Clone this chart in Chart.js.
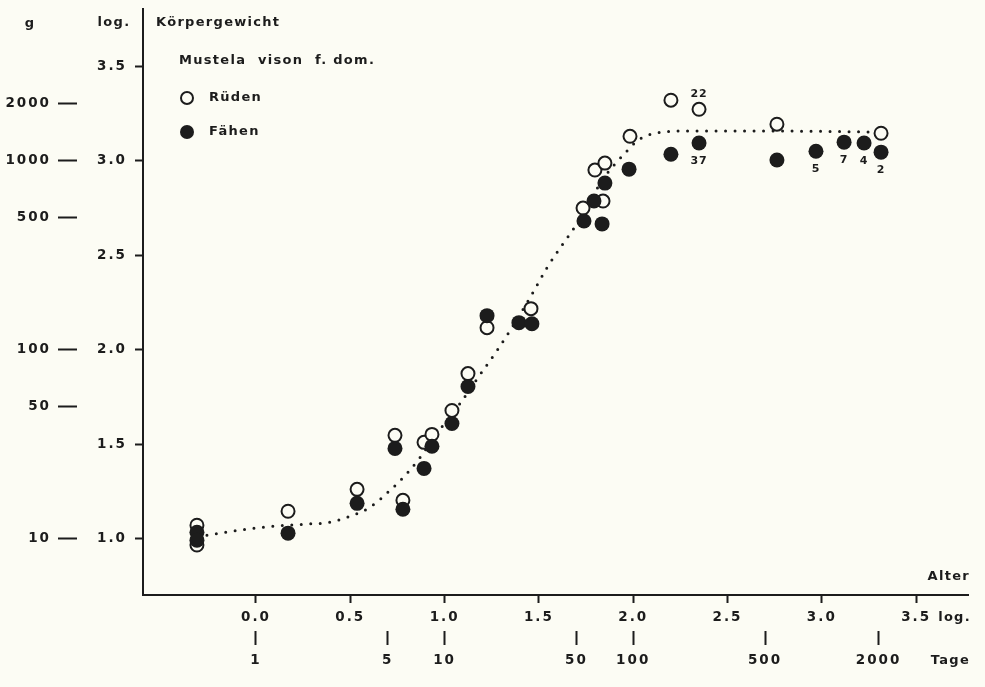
<!DOCTYPE html>
<html>
<head>
<meta charset="utf-8">
<script src="https://cdn.jsdelivr.net/npm/chart.js@4.4.1/dist/chart.umd.min.js"></script>
<style>
  html, body { margin: 0; padding: 0; background: #fcfcf4; }
  canvas { display: block; }
</style>
</head>
<body>
<canvas id="chart" width="985" height="687"></canvas>
<script>
// Körpergewicht (log g) over Alter (log Tage)
const maleX = [-0.313, -0.313, 0.170, 0.536, 0.737, 0.779, 0.891, 0.933, 1.039, 1.124, 1.225,
  1.458, 1.734, 1.797, 1.840, 1.850, 1.983, 2.200, 2.349, 2.762, 3.314];
const maleY = [1.070, 0.965, 1.144, 1.260, 1.546, 1.202, 1.509, 1.551, 1.678, 1.873, 2.116,
  2.217, 2.750, 2.951, 2.787, 2.988, 3.130, 3.321, 3.273, 3.194, 3.146];

const femaleX = [-0.313, -0.313, 0.170, 0.536, 0.737, 0.779, 0.891, 0.933, 1.039, 1.124, 1.225,
  1.394, 1.463, 1.739, 1.792, 1.835, 1.850, 1.978, 2.200, 2.349, 2.762, 2.969, 3.118, 3.224, 3.314];
const femaleY = [1.033, 0.991, 1.028, 1.186, 1.477, 1.155, 1.371, 1.488, 1.609, 1.805, 2.180,
  2.143, 2.137, 2.681, 2.787, 2.666, 2.882, 2.956, 3.035, 3.094, 3.004, 3.051, 3.099, 3.094, 3.046];

// dotted growth curve
const curveX = [-0.260, -0.085, 0.090, 0.270, 0.392, 0.514, 0.604, 0.711, 0.801, 0.870, 0.923, 0.992,
  1.082, 1.177, 1.278, 1.357, 1.453, 1.543, 1.628, 1.702, 1.771, 1.840, 1.903, 1.967, 2.020,
  2.126, 2.317, 2.725, 3.271];
const curveY = [1.017, 1.044, 1.065, 1.076, 1.086, 1.123, 1.165, 1.255, 1.345, 1.429, 1.503, 1.599,
  1.715, 1.852, 1.995, 2.117, 2.275, 2.434, 2.561, 2.667, 2.788, 2.904, 2.983, 3.052, 3.105,
  3.148, 3.158, 3.158, 3.153];

// sample sizes written next to some points
const noteText = ["22", "37", "5", "7", "4", "2"];
const noteSeries = [1, 2, 2, 2, 2, 2];   // dataset index (1 = Rüden, 2 = Fähen)
const notePoint = [18, 19, 21, 22, 23, 24];
const noteAbove = [true, false, false, false, false, false];

const logTicksX = [0.0, 0.5, 1.0, 1.5, 2.0, 2.5, 3.0, 3.5];
const dayTicks = [1, 5, 10, 50, 100, 500, 2000];
const logTicksY = [1.0, 1.5, 2.0, 2.5, 3.0, 3.5];
const gramTicks = [10, 50, 100, 500, 1000, 2000];

const INK = "#1c1c1c";
const BG = "#fcfcf4";
const FONT = "'DejaVu Sans', sans-serif";

const toPoints = (xs, ys) => xs.map((x, i) => ({ x: x, y: ys[i] }));

const textPlugin = {
  id: "texts",
  beforeLayout(chart) { chart.ctx.letterSpacing = "2px"; },
  beforeDraw(chart) { chart.ctx.letterSpacing = "2px"; },
  afterDatasetsDraw(chart) {
    const ctx = chart.ctx;
    const sx = chart.scales.x;
    const area = chart.chartArea;
    ctx.save();
    ctx.letterSpacing = "1.3px";
    ctx.fillStyle = INK;
    ctx.textBaseline = "middle";
    ctx.font = "bold 13px " + FONT;

    // header row
    ctx.textAlign = "center";
    ctx.fillText("g", 30, 24);
    ctx.fillText("log.", 114, 23);
    ctx.textAlign = "left";
    ctx.fillText("Körpergewicht", 156, 23);

    // legend
    ctx.fillText("Mustela  vison  f. dom.", 179, 61);
    ctx.fillText("Rüden", 209, 98);
    ctx.fillText("Fähen", 209, 132);
    ctx.beginPath();
    ctx.arc(187, 98, 6, 0, Math.PI * 2);
    ctx.lineWidth = 2;
    ctx.strokeStyle = INK;
    ctx.stroke();
    ctx.beginPath();
    ctx.arc(187, 132, 7, 0, Math.PI * 2);
    ctx.fill();

    // axis captions
    ctx.textAlign = "right";
    ctx.fillText("Alter", area.right + 2, 577);
    ctx.fillText("Tage", area.right + 2, 661);
    ctx.textAlign = "left";
    ctx.fillText("log.", sx.getPixelForValue(3.5) + 22, 618);

    // point notes
    ctx.font = "bold 11px " + FONT;
    ctx.letterSpacing = "1px";
    ctx.textAlign = "center";
    noteText.forEach((t, i) => {
      const el = chart.getDatasetMeta(noteSeries[i]).data[notePoint[i]];
      ctx.fillText(t, el.x, el.y + (noteAbove[i] ? -15 : 18));
    });
    ctx.restore();
  }
};

const tickFont = { family: FONT, size: 13.5, weight: "bold" };

// fixed box sizes so the plot frame sits where the figure has it
const fitLeft = w => s => { s.width = w; s.paddingTop = 7; s.paddingBottom = 0; };

new Chart(document.getElementById("chart"), {
  type: "scatter",
  data: {
    datasets: [
      {
        label: "Kurve",
        data: toPoints(curveX, curveY),
        showLine: true,
        pointRadius: 0,
        borderColor: INK,
        borderWidth: 3,
        borderDash: [0, 9.5],
        borderCapStyle: "round",
        cubicInterpolationMode: "monotone",
        order: 3
      },
      {
        label: "Rüden",
        data: toPoints(maleX, maleY),
        pointRadius: 6.5,
        pointBackgroundColor: BG,
        pointBorderColor: INK,
        pointBorderWidth: 2,
        order: 2
      },
      {
        label: "Fähen",
        data: toPoints(femaleX, femaleY),
        pointRadius: 7.5,
        pointBackgroundColor: INK,
        pointBorderColor: INK,
        pointBorderWidth: 0,
        order: 1
      }
    ]
  },
  options: {
    responsive: false,
    animation: false,
    layout: { padding: { top: 0, right: 17, bottom: 8, left: 0 } },
    plugins: { legend: { display: false }, tooltip: { enabled: false } },
    scales: {
      x: {
        type: "linear",
        position: "bottom",
        min: -0.599,
        max: 3.775,
        afterBuildTicks: s => { s.ticks = logTicksX.map(v => ({ value: v })); },
        afterFit: s => { s.height = 36; },
        ticks: { autoSkip: false, maxRotation: 0, padding: 6, color: INK, font: tickFont,
          callback: v => v.toFixed(1) },
        grid: { drawOnChartArea: false, tickLength: 8, tickWidth: 2, tickColor: INK },
        border: { color: INK, width: 2 }
      },
      xt: {
        type: "linear",
        position: "bottom",
        min: -0.599,
        max: 3.775,
        afterBuildTicks: s => { s.ticks = dayTicks.map(d => ({ value: Math.log10(d) })); },
        afterFit: s => { s.height = 48; },
        ticks: { autoSkip: false, maxRotation: 0, padding: 7, color: INK, font: tickFont,
          callback: (v, i) => String(dayTicks[i]) },
        grid: { drawOnChartArea: false, tickLength: 14, tickWidth: 2, tickColor: INK },
        border: { display: false }
      },
      y: {
        type: "linear",
        position: "left",
        min: 0.7005,
        max: 3.8067,
        afterBuildTicks: s => { s.ticks = logTicksY.map(v => ({ value: v })); },
        afterFit: fitLeft(66),
        ticks: { autoSkip: false, padding: 8, color: INK, font: tickFont,
          callback: v => v.toFixed(1) },
        grid: { drawOnChartArea: false, tickLength: 8, tickWidth: 2, tickColor: INK },
        border: { color: INK, width: 2 }
      },
      yg: {
        type: "linear",
        position: "left",
        min: 0.7005,
        max: 3.8067,
        afterBuildTicks: s => { s.ticks = gramTicks.map(g => ({ value: Math.log10(g) })); },
        afterFit: fitLeft(77),
        ticks: { autoSkip: false, padding: 7, color: INK, font: tickFont,
          callback: (v, i) => String(gramTicks[i]) },
        grid: { drawOnChartArea: false, tickLength: 19, tickWidth: 2, tickColor: INK },
        border: { display: false }
      }
    }
  },
  plugins: [textPlugin]
});
</script>
</body>
</html>
